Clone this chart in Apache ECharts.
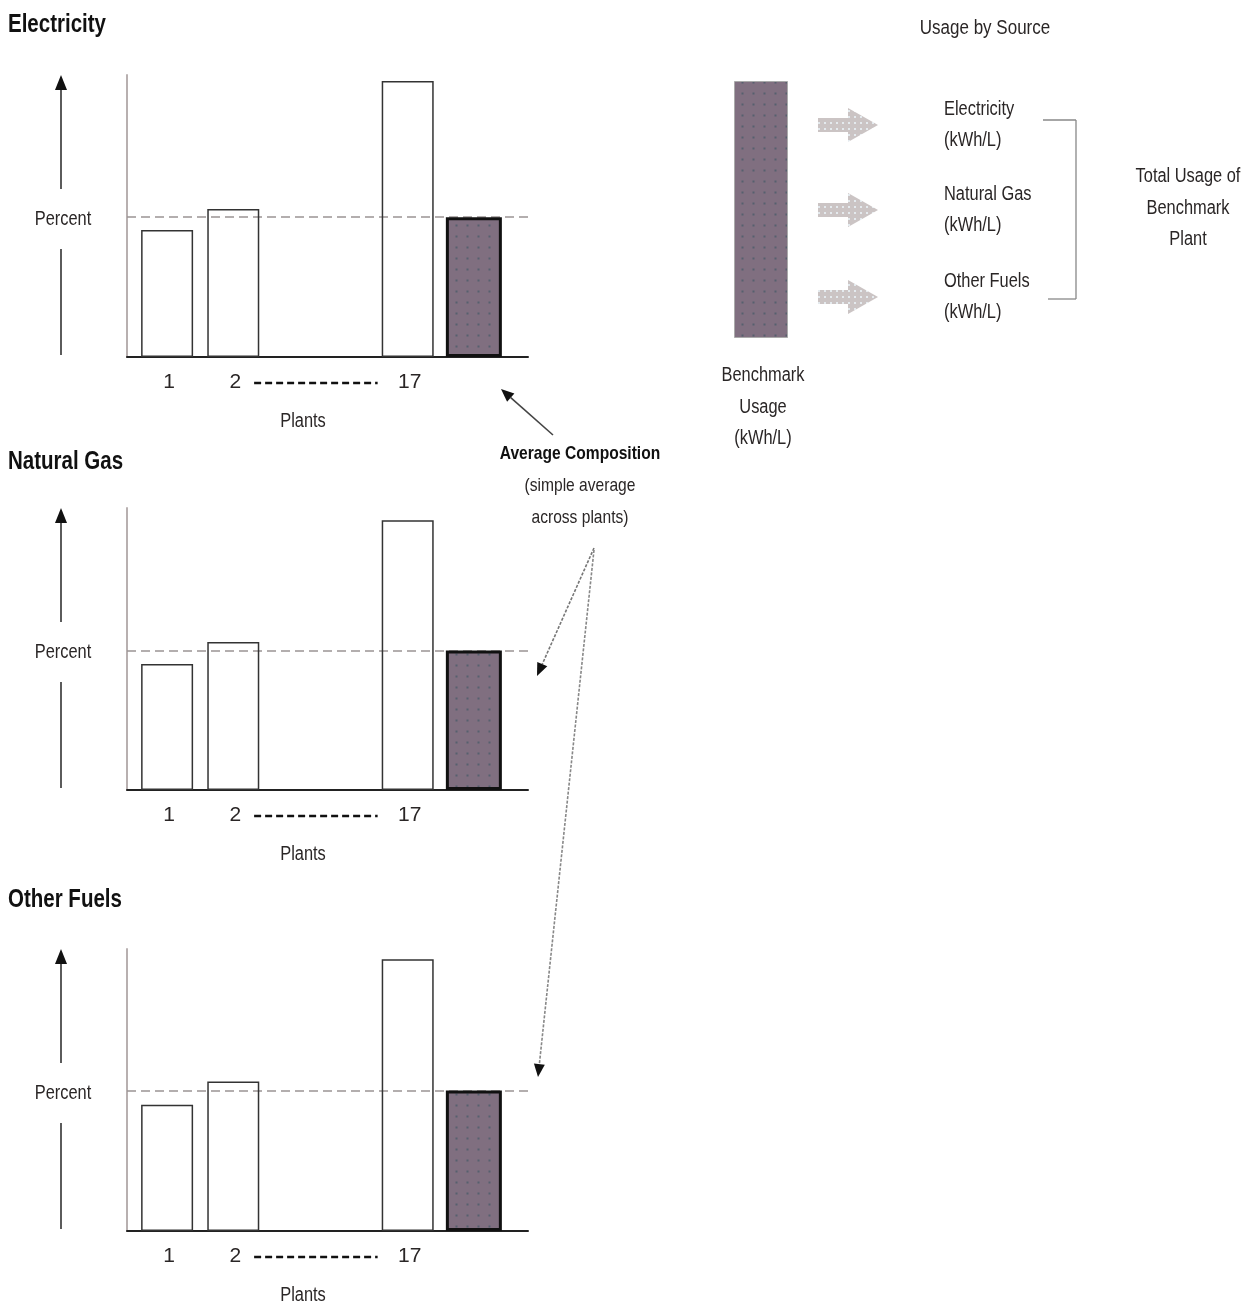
<!DOCTYPE html>
<html><head><meta charset="utf-8">
<script src="https://cdn.jsdelivr.net/npm/echarts@6/dist/echarts.min.js"></script>
<style>html,body{margin:0;background:#fff}#c{width:1246px;height:1307px}</style>
</head><body><div id="c"></div><script>
// ---------- data ----------
const panelTitles = ['Electricity', 'Natural Gas', 'Other Fuels'];
const plantLabels = ['1', '2', '17'];
const electricityPlants = [45.0, 52.5, 97.9];
const naturalGasPlants = [44.7, 52.5, 95.7];
const otherFuelsPlants = [44.8, 53.0, 96.4];
const averageValues = [49.6, 49.5, 49.8];
const benchmarkValue = [1];
const sourceLabels = ['Electricity\n(kWh/L)', 'Natural Gas\n(kWh/L)', 'Other Fuels\n(kWh/L)'];
const plantSeries = [electricityPlants, naturalGasPlants, otherFuelsPlants];

// ---------- layout ----------
const FONT = '"Liberation Sans", Arial, sans-serif';
const SX = 0.82;               // horizontal squeeze to mimic a narrow face
const TXT = '#2a2626';
const GL = 127, GW = 401, PH = 282;
const bases = [357, 790, 1231];
const titleY = [25, 462, 900];
const slotPos = [1.05, 2.7, 7.05, 8.65];   // horizontal slots: plant 1, plant 2, plant 17, average
const XMAX = 10;
const pxPerUnit = GW / XMAX;

function pattern(bg, dot, step, size) {
  const c = document.createElement('canvas');
  c.width = c.height = step;
  const g = c.getContext('2d');
  g.fillStyle = bg; g.fillRect(0, 0, step, step);
  g.fillStyle = dot; g.fillRect(step / 2 - size / 2, step / 2 - size / 2, size, size);
  return { image: c, repeat: 'repeat' };
}
const avgFill = pattern('#806f80', '#56606e', 11, 2);
const arrowFill = pattern('#cbc4c4', '#e4eaee', 6, 2);

function txt(text, x, y, size, opts) {
  opts = opts || {};
  return {
    type: 'text', z: 50, silent: true, x: x, y: y, scaleX: opts.sx || SX,
    style: {
      text: text, x: 0, y: 0,
      font: (opts.bold ? 'bold ' : '') + size + 'px ' + FONT,
      fill: opts.fill || TXT,
      textAlign: opts.align || 'center',
      textVerticalAlign: 'middle',
      lineHeight: opts.lh || size
    }
  };
}
function line(x1, y1, x2, y2, color, w, dash) {
  return { type: 'line', silent: true, z: 40, shape: { x1, y1, x2, y2 },
    style: { stroke: color, lineWidth: w, lineDash: dash || null } };
}
function arrow(x1, y1, x2, y2, color, dash) {
  const dx = x2 - x1, dy = y2 - y1, L = Math.hypot(dx, dy);
  const ux = dx / L, uy = dy / L, hl = 13, hw = 5.5;
  const bx = x2 - ux * hl, by = y2 - uy * hl;
  return [
    line(x1, y1, bx, by, color, 1.6, dash),
    { type: 'polygon', silent: true, z: 40,
      shape: { points: [[x2, y2], [bx - uy * hw, by + ux * hw], [bx + uy * hw, by - ux * hw]] },
      style: { fill: '#111' } }
  ];
}

const grids = [], xAxes = [], yAxes = [], series = [], graphics = [];

bases.forEach((base, i) => {
  grids.push({ left: GL, top: base - PH, width: GW, height: PH });
  xAxes.push({
    type: 'value', gridIndex: i, min: 0, max: XMAX,
    axisLine: { show: true, lineStyle: { color: '#222', width: 2 } },
    axisTick: { show: false }, splitLine: { show: false },
    axisLabel: {
      customValues: slotPos.slice(0, 3),
      formatter: v => { const k = slotPos.findIndex(p => Math.abs(p - v) < 1e-6); return k >= 0 ? plantLabels[k] : ''; },
      fontFamily: FONT, fontSize: 21, color: TXT, margin: 15
    }
  });
  yAxes.push({
    type: 'value', gridIndex: i, min: 0, max: 100,
    axisLine: { show: true, lineStyle: { color: '#b8b0b0', width: 2 } },
    axisLabel: { show: false }, axisTick: { show: false }, splitLine: { show: false }
  });
  series.push({
    type: 'bar', xAxisIndex: i, yAxisIndex: i, barWidth: 52, barGap: '-100%', silent: true,
    itemStyle: { color: 'rgba(255,255,255,0)', borderColor: '#333', borderWidth: 1.5 },
    data: plantSeries[i].map((v, k) => [slotPos[k], v]),
    markLine: {
      silent: true, symbol: 'none', z: 1, label: { show: false },
      lineStyle: { color: '#9a9494', type: [9, 5], width: 1.5 },
      data: [{ yAxis: averageValues[i] }]
    }
  });
  series.push({
    type: 'bar', xAxisIndex: i, yAxisIndex: i, barWidth: 56, barGap: '-100%', silent: true, z: 3,
    itemStyle: { color: avgFill, borderColor: '#111', borderWidth: 3 },
    data: [[slotPos[3], averageValues[i]]]
  });

  // panel title
  graphics.push(txt(panelTitles[i], 8, titleY[i], 25, { bold: true, align: 'left', fill: '#111' }));
  // y arrow with "Percent"
  const top = base - PH;
  const pY = base - 138;
  graphics.push(line(61, top + 12, 61, pY - 30, '#333', 1.6));
  graphics.push(line(61, pY + 30, 61, base - 2, '#333', 1.6));
  graphics.push({ type: 'polygon', silent: true, z: 40,
    shape: { points: [[61, top], [55, top + 15], [67, top + 15]] }, style: { fill: '#111' } });
  graphics.push(txt('Percent', 63, pY, 20));
  // dotted run between "2" and "17"
  graphics.push(line(GL + 3.17 * pxPerUnit, base + 26, GL + 6.25 * pxPerUnit, base + 26, '#111', 2.5, [7, 4]));
  // axis title
  graphics.push(txt('Plants', 303, base + 64, 20));
});

// benchmark bar
grids.push({ left: 734, top: 81, width: 54, height: 257 });
xAxes.push({ type: 'category', gridIndex: 3, data: ['Benchmark'], show: false });
yAxes.push({ type: 'value', gridIndex: 3, min: 0, max: 1, show: false });
series.push({
  type: 'bar', xAxisIndex: 3, yAxisIndex: 3, barWidth: '100%', silent: true,
  itemStyle: { color: avgFill, borderColor: '#aaa', borderWidth: 1 },
  data: benchmarkValue
});

// right side texts
graphics.push(txt('Usage by Source', 985, 28, 20, { sx: 0.85 }));
graphics.push(txt('Benchmark\nUsage\n(kWh/L)', 763, 407, 20, { lh: 31.5 }));
const srcY = [125, 210, 297];
srcY.forEach((c, k) => {
  graphics.push({ type: 'polygon', silent: true, z: 40,
    shape: { points: [[818, c - 7], [848, c - 7], [848, c - 17], [878, c], [848, c + 17], [848, c + 7], [818, c + 7]] },
    style: { fill: arrowFill } });
  graphics.push(txt(sourceLabels[k], 944, c, 20, { align: 'left', lh: 31 }));
});
// bracket
graphics.push(line(1043, 120, 1076, 120, '#888', 1.3));
graphics.push(line(1076, 120, 1076, 299, '#888', 1.3));
graphics.push(line(1048, 299, 1076, 299, '#888', 1.3));
graphics.push(txt('Total Usage of\nBenchmark\nPlant', 1188, 208, 20, { lh: 31.5 }));

// Average composition annotation
graphics.push(txt('Average Composition', 580, 454, 19, { bold: true, fill: '#111' }));
graphics.push(txt('(simple average\nacross plants)', 580, 502, 19, { lh: 32 }));
graphics.push(...arrow(553, 435, 501, 389, '#444'));
graphics.push(...arrow(594, 548, 537, 676, '#777', [3, 1.5]));
graphics.push(...arrow(594, 550, 538, 1077, '#888', [3, 1.5]));

const chart = echarts.init(document.getElementById('c'), null, { renderer: 'canvas' });
chart.setOption({
  animation: false,
  backgroundColor: '#fff',
  grid: grids, xAxis: xAxes, yAxis: yAxes, series: series,
  graphic: graphics
});
</script></body></html>
